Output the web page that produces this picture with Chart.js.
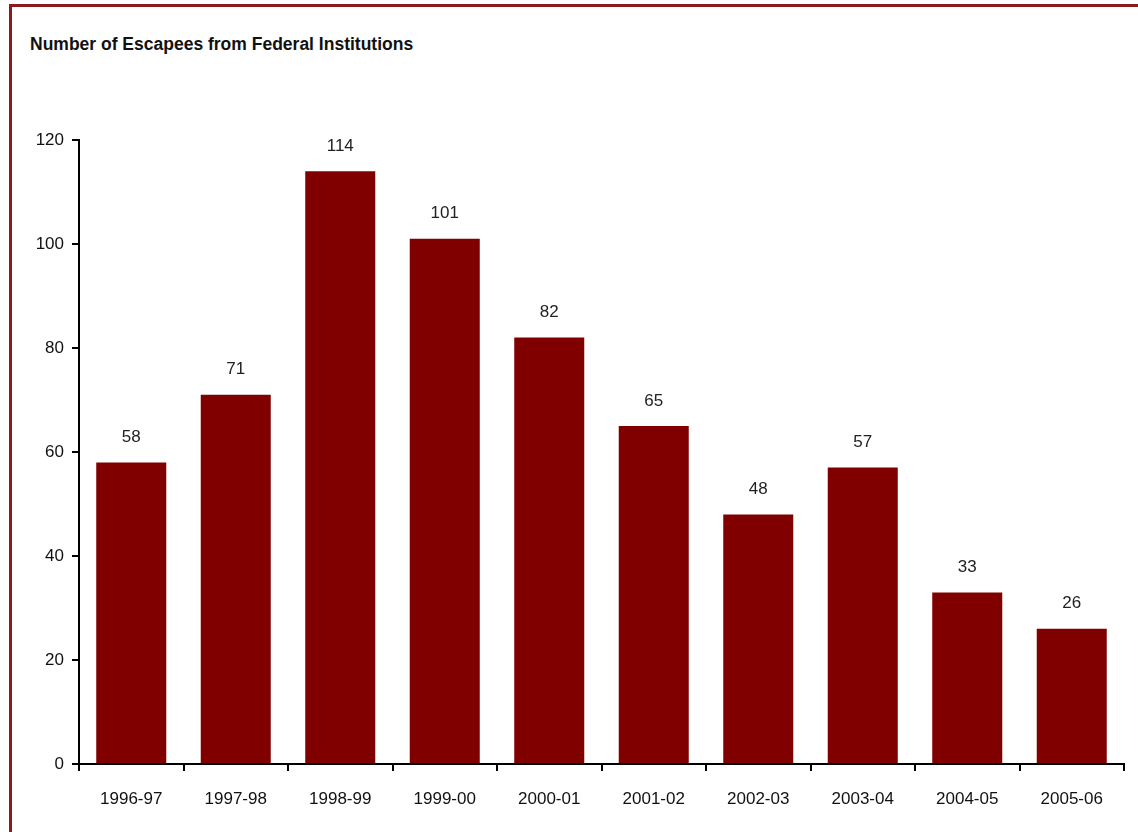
<!DOCTYPE html>
<html>
<head>
<meta charset="utf-8">
<script src="https://cdn.jsdelivr.net/npm/chart.js@4/dist/chart.umd.min.js"></script>
<style>
  html, body { margin: 0; padding: 0; background: #fff; }
  body { width: 1138px; height: 832px; position: relative; overflow: hidden; }
  #frame {
    position: absolute; left: 9px; top: 4px; width: 1200px; height: 900px;
    border-left: 3px solid #8b1a1a; border-top: 3px solid #8b1a1a;
  }
  #title {
    position: absolute; left: 30px; top: 34px;
    font-family: "Liberation Sans Narrow", "Liberation Sans", sans-serif;
    font-weight: bold; font-size: 17.5px; color: #111;
  }
  #chart { position: absolute; left: 0; top: 0; }
</style>
</head>
<body>
<div id="frame"></div>
<div id="title">Number of Escapees from Federal Institutions</div>
<canvas id="chart" width="1138" height="832"></canvas>
<script>
// ---------------- DATA ----------------
const years = ["1996-97", "1997-98", "1998-99", "1999-00", "2000-01",
               "2001-02", "2002-03", "2003-04", "2004-05", "2005-06"];
const escapees = [58, 71, 114, 101, 82, 65, 48, 57, 33, 26];
const yTicks = [0, 20, 40, 60, 80, 100, 120];

const FONT = "'Liberation Sans Narrow', 'Liberation Sans', sans-serif";

// value labels above each bar
const barLabels = {
  id: "barLabels",
  afterDatasetsDraw(chart) {
    const ctx = chart.ctx;
    const meta = chart.getDatasetMeta(0);
    ctx.save();
    ctx.font = "17px " + FONT;
    ctx.fillStyle = "#222";
    ctx.textAlign = "center";
    ctx.textBaseline = "middle";
    meta.data.forEach((bar, i) => {
      ctx.fillText(String(escapees[i]), bar.x, bar.y - 25);
    });
    ctx.restore();
  }
};

const ctx = document.getElementById("chart").getContext("2d");
new Chart(ctx, {
  type: "bar",
  data: {
    labels: years,
    datasets: [{
      data: escapees,
      backgroundColor: "#800000",
      borderWidth: 0,
      barPercentage: 0.67,
      categoryPercentage: 1.0
    }]
  },
  options: {
    responsive: false,
    animation: false,
    devicePixelRatio: 1,
    layout: { padding: { top: 140, right: 14, left: 0, bottom: 0 } },
    plugins: { legend: { display: false }, tooltip: { enabled: false }, title: { display: false } },
    scales: {
      x: {
        offset: true,
        grid: { offset: true, drawOnChartArea: false, drawTicks: true, tickLength: 7, color: "#000", lineWidth: 2 },
        border: { color: "#000", width: 2 },
        ticks: { color: "#111", font: { family: FONT, size: 17 }, padding: 18, maxRotation: 0 },
        afterFit(scale) { scale.height = 68; }
      },
      y: {
        min: 0, max: 120,
        afterBuildTicks(scale) { scale.ticks = yTicks.map(v => ({ value: v })); },
        grid: { drawOnChartArea: false, drawTicks: true, tickLength: 7, color: "#000", lineWidth: 2 },
        border: { color: "#000", width: 2 },
        ticks: { color: "#111", font: { family: FONT, size: 17 }, padding: 8 },
        afterFit(scale) { scale.width = 79; }
      }
    }
  },
  plugins: [barLabels]
});
</script>
</body>
</html>
